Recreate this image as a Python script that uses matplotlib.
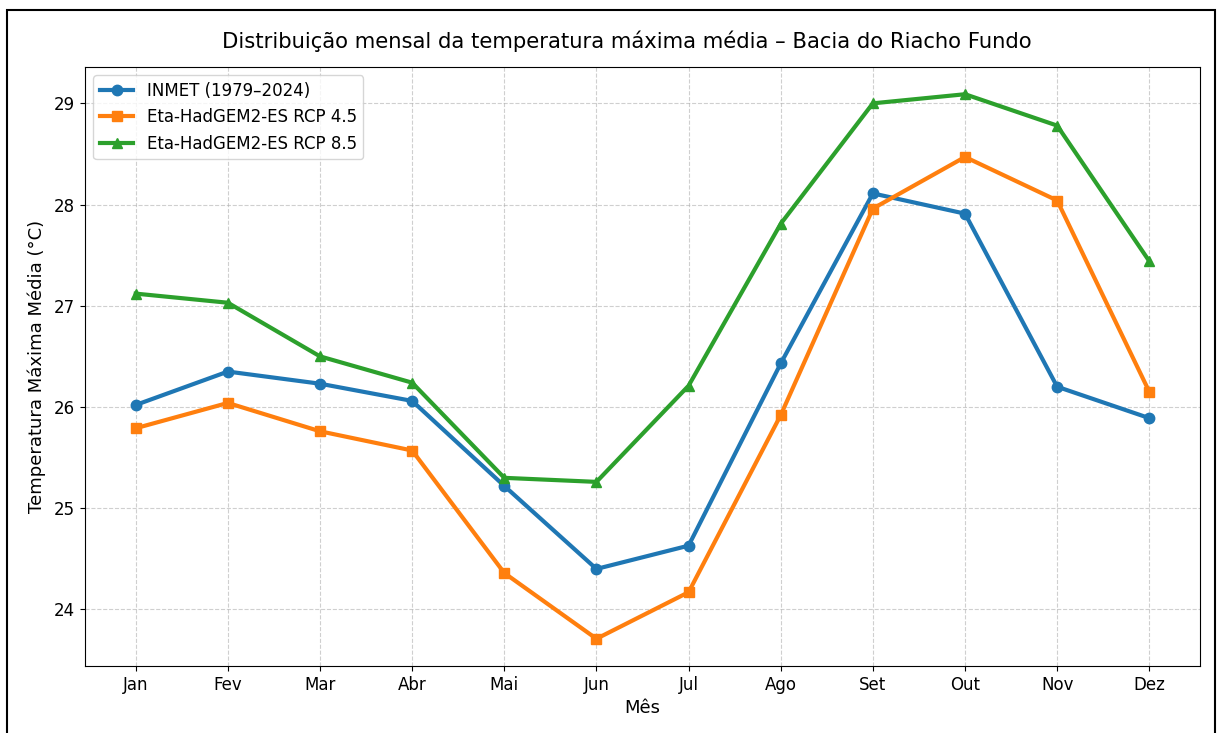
import matplotlib
matplotlib.use('Agg')
import matplotlib.pyplot as plt
from matplotlib.patches import Rectangle

# monthly mean max temperature (°C)
meses = ['Jan', 'Fev', 'Mar', 'Abr', 'Mai', 'Jun', 'Jul', 'Ago', 'Set', 'Out', 'Nov', 'Dez']
inmet = [26.02, 26.35, 26.23, 26.06, 25.22, 24.40, 24.63, 26.43, 28.11, 27.91, 26.20, 25.89]
rcp45 = [25.79, 26.04, 25.76, 25.57, 24.36, 23.71, 24.17, 25.92, 27.96, 28.47, 28.04, 26.15]
rcp85 = [27.12, 27.03, 26.50, 26.24, 25.30, 25.26, 26.21, 27.81, 29.00, 29.09, 28.78, 27.44]

fig = plt.figure(figsize=(12.2, 7.33), dpi=100)
ax = fig.add_axes([0.0697, 0.0914, 0.9139, 0.8172])

x = range(len(meses))
ax.plot(x, inmet, marker='o', linewidth=3, markersize=7.5, color='#1f77b4', label='INMET (1979–2024)')
ax.plot(x, rcp45, marker='s', linewidth=3, markersize=7.5, color='#ff7f0e', label='Eta-HadGEM2-ES RCP 4.5')
ax.plot(x, rcp85, marker='^', linewidth=3, markersize=7.5, color='#2ca02c', label='Eta-HadGEM2-ES RCP 8.5')

ax.set_xticks(list(x))
ax.set_xticklabels(meses)
ax.tick_params(labelsize=12)
ax.set_xlabel('Mês', fontsize=13)
ax.set_ylabel('Temperatura Máxima Média (°C)', fontsize=13, labelpad=6)
ax.set_title('Distribuição mensal da temperatura máxima média – Bacia do Riacho Fundo',
             fontsize=15.2, pad=14, x=0.486)
ax.grid(True, linestyle='--', alpha=0.6)
ax.legend(loc='upper left', fontsize=12)

# black frame around the figure
frame = Rectangle((7 / 1220, -0.05), (1215 - 7) / 1220, 1 - 10 / 733 + 0.05,
                  transform=fig.transFigure, fill=False, edgecolor='black', linewidth=1.5, clip_on=False)
fig.patches.append(frame)

fig.savefig('out.png', dpi=100)
